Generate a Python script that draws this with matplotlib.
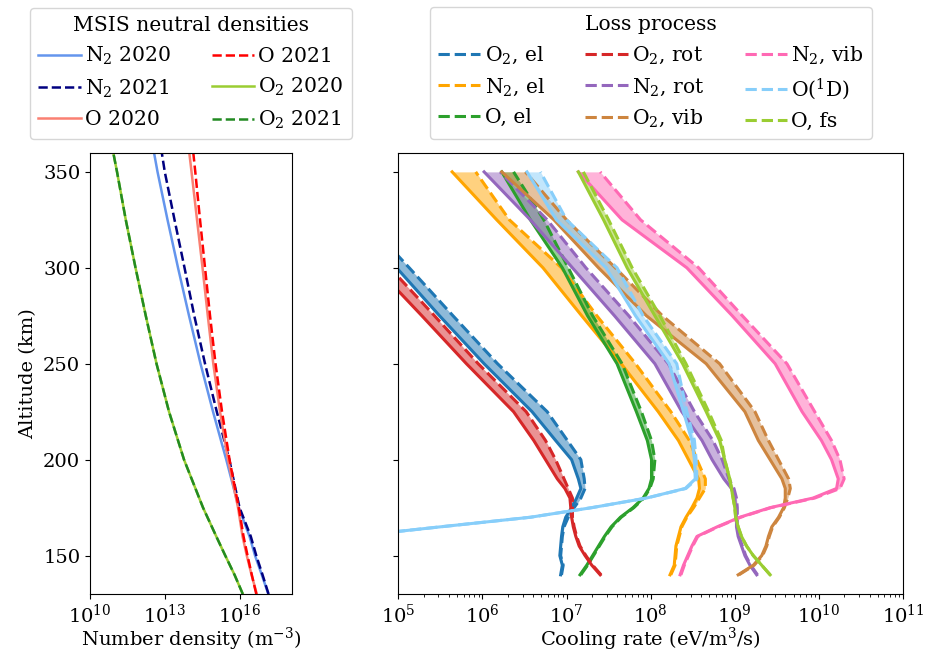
import matplotlib
matplotlib.use("Agg")
import matplotlib.pyplot as plt
import matplotlib.ticker as mticker
import numpy as np

plt.rcParams['font.family'] = ['DejaVu Serif']
plt.rcParams['mathtext.fontset'] = 'dejavuserif'
plt.rcParams['font.size'] = 14

# ---- MSIS neutral densities (log10 of m^-3) ----
alt_msis = [130, 140, 150, 160, 175, 200, 225, 250, 275, 300, 325, 350, 360]
n2_2020 = [17.13, 16.87, 16.60, 16.38, 15.95, 15.45, 14.92, 14.42, 13.96, 13.52, 13.10, 12.70, 12.56]
n2_2021 = [17.14, 16.90, 16.65, 16.43, 15.98, 15.57, 15.07, 14.60, 14.17, 13.78, 13.38, 12.99, 12.87]
o_2020 = [16.67, 16.46, 16.27, 16.10, 15.92, 15.52, 15.20, 14.93, 14.71, 14.50, 14.28, 14.06, 13.97]
o_2021 = [16.65, 16.47, 16.30, 16.14, 15.95, 15.58, 15.28, 15.02, 14.80, 14.60, 14.40, 14.21, 14.13]
o2_2020 = [16.11, 15.78, 15.41, 15.05, 14.52, 13.76, 13.16, 12.66, 12.23, 11.82, 11.43, 11.08, 10.93]
o2_2021 = [16.11, 15.78, 15.41, 15.05, 14.52, 13.76, 13.16, 12.66, 12.23, 11.82, 11.43, 11.08, 10.93]

# ---- cooling rates (log10 of eV/m^3/s), 2020 (solid) and 2021 (dashed) ----
alt = [140, 145, 150, 155, 160, 165, 170, 175, 180, 185, 190, 200, 210, 225, 250, 275, 300, 325, 350]
o2_el_2020 = [6.93, 6.95, 6.92, 6.93, 6.94, 6.955, 6.99, 7.06, 7.12, 7.17, 7.14, 7.06, 6.87, 6.59, 6.02, 5.49, 4.98, 4.45, 3.90]
o2_el_2021 = [6.94, 6.96, 6.93, 6.94, 6.95, 6.97, 7.02, 7.09, 7.17, 7.22, 7.21, 7.17, 7.01, 6.77, 6.18, 5.65, 5.13, 4.60, 4.05]
n2_el_2020 = [8.23, 8.28, 8.29, 8.30, 8.33, 8.36, 8.42, 8.49, 8.55, 8.58, 8.57, 8.45, 8.33, 8.09, 7.65, 7.18, 6.72, 6.17, 5.64]
n2_el_2021 = [8.24, 8.29, 8.30, 8.31, 8.34, 8.37, 8.43, 8.51, 8.58, 8.65, 8.65, 8.55, 8.46, 8.24, 7.82, 7.36, 6.94, 6.32, 5.92]
o_el_2020 = [7.16, 7.24, 7.31, 7.38, 7.45, 7.53, 7.64, 7.79, 7.91, 7.98, 8.01, 8.01, 7.96, 7.83, 7.60, 7.25, 6.95, 6.57, 6.23]
o_el_2021 = [7.17, 7.25, 7.32, 7.39, 7.46, 7.54, 7.65, 7.80, 7.92, 7.99, 8.03, 8.05, 8.01, 7.89, 7.66, 7.31, 7.02, 6.73, 6.37]
o2_rot_2020 = [7.40, 7.30, 7.22, 7.15, 7.11, 7.08, 7.06, 7.05, 7.04, 6.98, 6.89, 6.75, 6.61, 6.37, 5.81, 5.28, 4.74, 4.20, 3.65]
o2_rot_2021 = [7.41, 7.31, 7.23, 7.16, 7.12, 7.09, 7.07, 7.07, 7.07, 7.02, 6.97, 6.87, 6.75, 6.52, 5.95, 5.43, 4.90, 4.37, 3.85]
n2_rot_2020 = [9.26, 9.18, 9.12, 9.08, 9.04, 9.02, 9.02, 9.01, 9.00, 8.96, 8.87, 8.73, 8.61, 8.37, 8.05, 7.57, 7.07, 6.57, 6.02]
n2_rot_2021 = [9.27, 9.19, 9.13, 9.09, 9.05, 9.03, 9.03, 9.03, 9.02, 8.99, 8.93, 8.85, 8.74, 8.52, 8.21, 7.74, 7.23, 6.77, 6.21]
o2_vib_2020 = [9.04, 9.22, 9.32, 9.37, 9.40, 9.44, 9.52, 9.58, 9.60, 9.60, 9.56, 9.42, 9.28, 9.12, 8.66, 7.95, 7.38, 6.85, 6.23]
o2_vib_2021 = [9.05, 9.23, 9.33, 9.38, 9.41, 9.45, 9.53, 9.59, 9.63, 9.66, 9.64, 9.52, 9.40, 9.24, 8.82, 8.14, 7.58, 7.00, 6.51]
n2_vib_2020 = [8.35, 8.39, 8.44, 8.49, 8.55, 8.79, 9.06, 9.42, 9.93, 10.21, 10.23, 10.15, 10.03, 9.80, 9.48, 8.97, 8.43, 7.66, 7.14]
n2_vib_2021 = [8.36, 8.40, 8.45, 8.50, 8.56, 8.80, 9.07, 9.43, 9.95, 10.25, 10.30, 10.25, 10.15, 9.95, 9.62, 9.09, 8.57, 7.88, 7.40]
o1d_2020 = [2.50, 3.00, 3.50, 4.00, 4.45, 5.50, 6.57, 7.30, 7.95, 8.41, 8.53, 8.52, 8.49, 8.39, 8.22, 7.82, 7.47, 6.88, 6.53]
o1d_2021 = [2.50, 3.00, 3.50, 4.00, 4.45, 5.50, 6.57, 7.30, 7.95, 8.42, 8.55, 8.54, 8.52, 8.43, 8.31, 7.91, 7.60, 7.00, 6.69]
o_fs_2020 = [9.42, 9.32, 9.22, 9.14, 9.08, 9.04, 9.01, 9.00, 8.98, 8.96, 8.94, 8.88, 8.82, 8.66, 8.38, 8.05, 7.72, 7.44, 7.14]
o_fs_2021 = [9.42, 9.32, 9.22, 9.14, 9.08, 9.04, 9.01, 9.00, 8.98, 8.96, 8.94, 8.88, 8.84, 8.69, 8.42, 8.11, 7.78, 7.50, 7.20]

fig = plt.figure(figsize=(9.3, 6.57), dpi=100)
ax1 = fig.add_axes([0.0968, 0.0959, 0.2172, 0.6717])
ax2 = fig.add_axes([0.4283, 0.0959, 0.5427, 0.6717], sharey=ax1)

# left panel: neutral densities
msis = [
    (n2_2020, 'N$_2$ 2020', 'cornflowerblue', '-'),
    (n2_2021, 'N$_2$ 2021', 'navy', '--'),
    (o_2020, 'O 2020', 'salmon', '-'),
    (o_2021, 'O 2021', 'red', '--'),
    (o2_2020, 'O$_2$ 2020', 'yellowgreen', '-'),
    (o2_2021, 'O$_2$ 2021', 'forestgreen', '--'),
]
for vals, lab, col, ls in msis:
    ax1.plot(10 ** np.array(vals), alt_msis, ls, color=col, lw=1.8, label=lab)

ax1.set_xscale('log')
ax1.set_xlim(1e10, 1.2e18)
ax1.set_ylim(130, 360)
ax1.xaxis.set_major_locator(mticker.FixedLocator([1e10, 1e13, 1e16]))
ax1.xaxis.set_minor_locator(mticker.NullLocator())
ax1.set_yticks([150, 200, 250, 300, 350])
ax1.set_xlabel('Number density (m$^{-3}$)', labelpad=-1)
ax1.set_ylabel('Altitude (km)')
ax1.legend(title='MSIS neutral densities', ncol=2, loc='lower center',
           bbox_to_anchor=(0.5, 1.008), handlelength=2.1, handletextpad=0.2,
           fontsize=14.6, title_fontsize=14.6)

# right panel: cooling rates per loss process
procs = [
    (o2_el_2020, o2_el_2021, 'O$_2$, el', 'tab:blue'),
    (n2_el_2020, n2_el_2021, 'N$_2$, el', 'orange'),
    (o_el_2020, o_el_2021, 'O, el', 'tab:green'),
    (o2_rot_2020, o2_rot_2021, 'O$_2$, rot', 'tab:red'),
    (n2_rot_2020, n2_rot_2021, 'N$_2$, rot', 'tab:purple'),
    (o2_vib_2020, o2_vib_2021, 'O$_2$, vib', 'peru'),
    (n2_vib_2020, n2_vib_2021, 'N$_2$, vib', 'hotpink'),
    (o1d_2020, o1d_2021, 'O($^1$D)', 'lightskyblue'),
    (o_fs_2020, o_fs_2021, 'O, fs', 'yellowgreen'),
]
for v20, v21, lab, col in procs:
    x20 = 10 ** np.array(v20)
    x21 = 10 ** np.array(v21)
    ax2.fill_betweenx(alt, x20, x21, color=col, alpha=0.5, lw=0)
    ax2.plot(x20, alt, '-', color=col, lw=2.2)
    ax2.plot(x21, alt, '--', color=col, lw=2.2, label=lab)

ax2.set_xscale('log')
ax2.set_xlim(1e5, 1e11)
ax2.xaxis.set_major_locator(mticker.LogLocator(base=10, numticks=10))
ax2.tick_params(axis='y', labelleft=False)
ax2.set_xlabel('Cooling rate (eV/m$^3$/s)', labelpad=-1)
ax2.legend(title='Loss process', ncol=3, loc='lower center',
           bbox_to_anchor=(0.5, 1.008), handlelength=2.1, handletextpad=0.2,
           fontsize=14.6, title_fontsize=14.6)

fig.savefig('out.png', dpi=100)
